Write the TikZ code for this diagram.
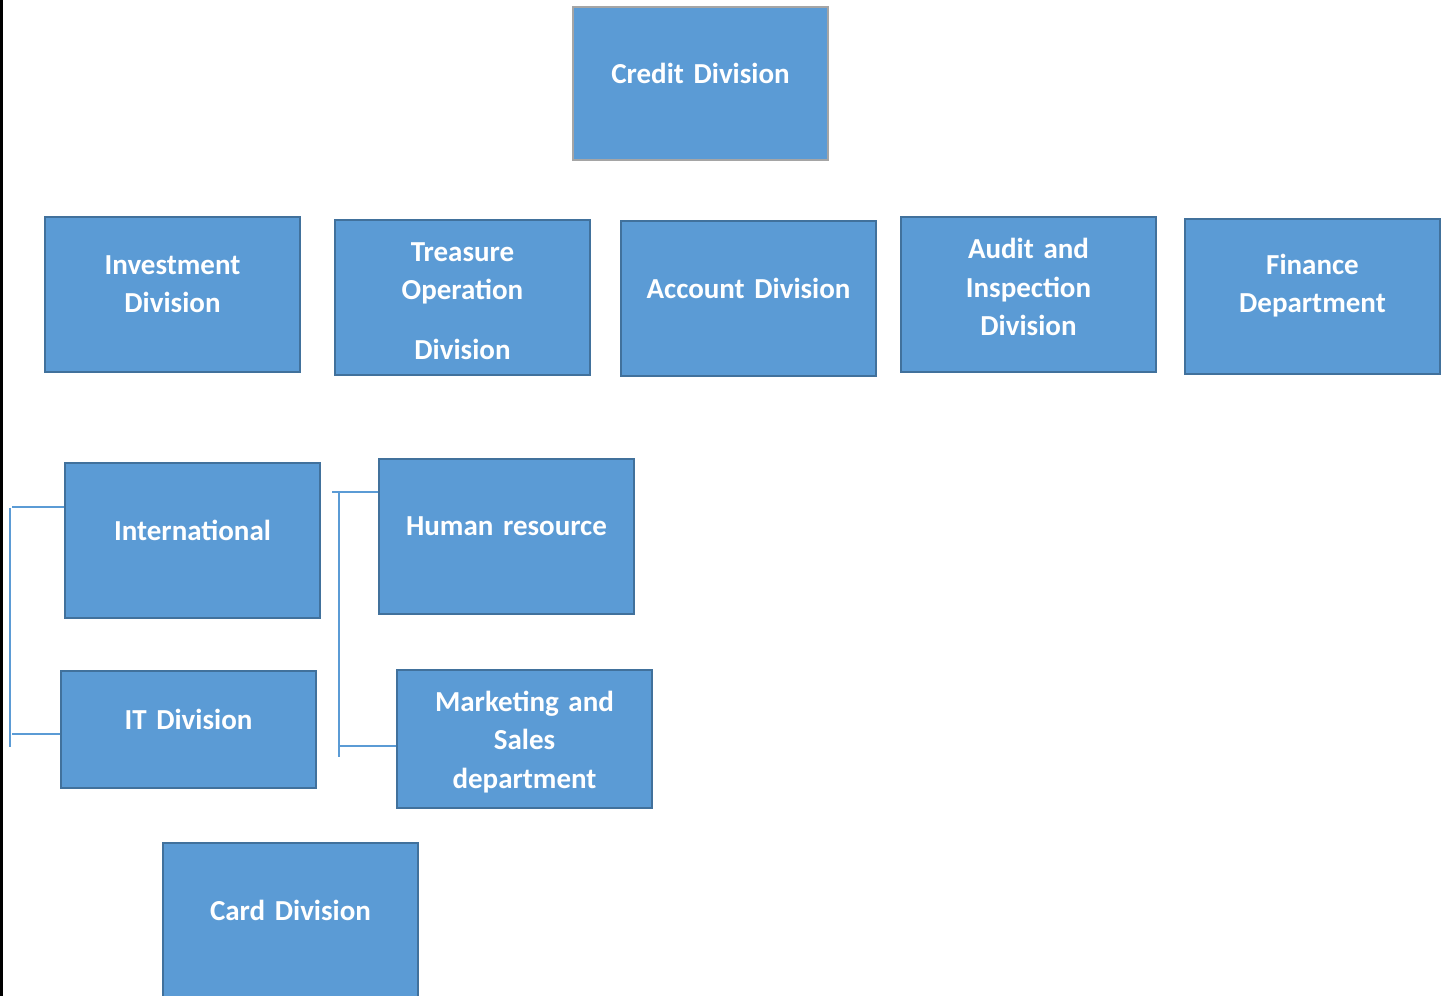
\documentclass[tikz,border=0pt]{standalone}
\usepackage{fontspec}
\setmainfont{Carlito}
\usepackage{xcolor}
\usepackage{tikz}
\usetikzlibrary{positioning,calc}

\definecolor{boxfill}{HTML}{5B9BD5}
\definecolor{boxedge}{HTML}{41719C}
\definecolor{topedge}{HTML}{A5A5A5}

\begin{document}
\begin{tikzpicture}[
    x=0.02cm, y=-0.02cm,
    padbottom/.store in=\padbottom,
    box/.style={padbottom=12pt, draw=boxedge, fill=boxfill, line width=1.1pt, minimum width=5.1cm, minimum height=3.1cm, text width=4.6cm, inner sep=0pt, align=center, text=white, font=\fontsize{16.5}{21.8}\selectfont\bfseries, execute at end node={\endgraf\vspace{\padbottom}}},
    link/.style={draw=boxfill, line width=0.8pt}
]
\useasboundingbox (0,0) rectangle (1446,996);
\fill[black] (0,0) rectangle (3,996);

% Top: head of the chart
\node[box, draw=topedge, minimum height=3.06cm] (credit) at (700.5,83.5) {Credit Division};

% Second row
\node[box] (invest) at (172.5,294.5) {Investment\\Division};
\node[box, padbottom=-4pt] (treasure) at (462.5,297.5) {Treasure\\Operation\\[12pt]Division};
\node[box] (account) at (748.5,298.5) {Account Division};
\node[box, padbottom=8.5pt] (audit) at (1028.5,294.5) {Audit and\\Inspection\\Division};
\node[box] (finance) at (1312.5,296.5) {Finance\\Department};

% Left group
\node[box] (intl) at (192.5,540.5) {International};
\node[box, minimum height=2.34cm] (itdiv) at (188.5,729.5) {IT Division};
\node[box] (card) at (290.5,920.5) {Card Division};

% Right group
\node[box] (hr) at (506.5,536.5) {Human resource};
\node[box, padbottom=-3.4pt, minimum height=2.76cm] (mkt) at (524.5,739) {Marketing and\\Sales\\department};

% Brackets
\coordinate (ltop) at (12,507);
\coordinate (lbot) at (12,734);
\coordinate (lspine1) at (10,508);
\coordinate (lspine2) at (10,747);
\draw[link] (ltop) -- (ltop -| intl.west);
\draw[link] (lbot) -- (lbot -| itdiv.west);
\draw[link] (lspine1) -- (lspine2);

\coordinate (rtop) at (332,492);
\coordinate (rbot) at (338,746);
\coordinate (rspine1) at (339,493);
\coordinate (rspine2) at (339,757);
\draw[link] (rtop) -- (rtop -| hr.west);
\draw[link] (rbot) -- (rbot -| mkt.west);
\draw[link] (rspine1) -- (rspine2);

\end{tikzpicture}
\end{document}
